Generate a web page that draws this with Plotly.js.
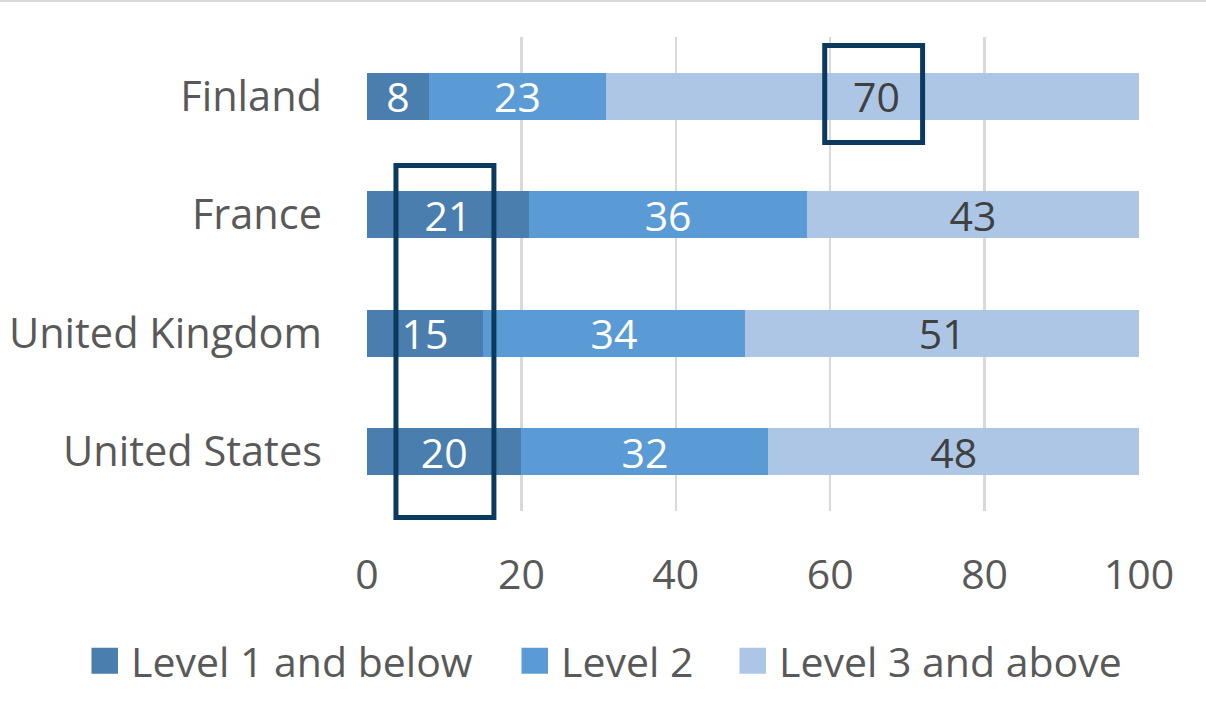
<!DOCTYPE html>
<html>
<head>
<meta charset="utf-8">
<script src="https://cdn.plot.ly/plotly-3.0.1.min.js"></script>
<style>
  html, body { margin: 0; padding: 0; background: #fff; }
  #chart { width: 1206px; height: 718px; }
</style>
</head>
<body>
<div id="chart"></div>
<script>
// Countries, top to bottom
const countries = ['Finland', 'France', 'United Kingdom', 'United States'];

// Share of students per proficiency level (%)
const level1AndBelow = [8, 21, 15, 20];
const level2 = [23, 36, 34, 32];
const level3AndAbove = [70, 43, 51, 48];

const seriesNames = ['Level 1 and below', 'Level 2', 'Level 3 and above'];
const xTicks = [0, 20, 40, 60, 80, 100];

const FONT = '"Open Sans", "Noto Sans", sans-serif';
const SIZE = 41;

function barTrace(name, values, color, textColor, legendId) {
  return {
    type: 'bar',
    orientation: 'h',
    name: name,
    legend: legendId,
    y: countries,
    x: values,
    text: values.map(String),
    textposition: 'inside',
    insidetextanchor: 'middle',
    textangle: 0,
    constraintext: 'none',
    textfont: { family: FONT, size: SIZE, color: textColor },
    marker: { color: color, line: { width: 0 } },
    hoverinfo: 'skip'
  };
}

const data = [
  barTrace(seriesNames[0], level1AndBelow, '#4a7eae', '#ffffff', 'legend'),
  barTrace(seriesNames[1], level2, '#5b9bd5', '#ffffff', 'legend2'),
  barTrace(seriesNames[2], level3AndAbove, '#adc6e6', '#404040', 'legend3')
];

// one legend box per series, spread along the bottom
function legendAt(x) {
  return {
    orientation: 'h',
    xref: 'container',
    yref: 'container',
    x: x,
    xanchor: 'left',
    y: 57 / 718,
    yanchor: 'middle',
    font: { family: FONT, size: SIZE, color: '#595959' },
    bgcolor: 'rgba(0,0,0,0)',
    borderwidth: 0
  };
}

const boxLine = { color: '#0b3a5e', width: 5 };

const layout = {
  width: 1206,
  height: 718,
  margin: { l: 366.5, r: 67, t: 37, b: 207, pad: 0 },
  paper_bgcolor: '#ffffff',
  plot_bgcolor: '#ffffff',
  barmode: 'stack',
  bargap: 0.6,
  showlegend: true,
  hovermode: false,
  font: { family: FONT, size: SIZE, color: '#595959' },
  xaxis: {
    range: [0, 100],
    tickvals: xTicks,
    ticktext: xTicks.map(String),
    showgrid: true,
    gridcolor: '#d9d9d9',
    gridwidth: 2.5,
    zeroline: false,
    showline: false,
    ticks: '',
    ticklabelstandoff: 36,
    tickfont: { family: FONT, size: SIZE, color: '#595959' },
    fixedrange: true
  },
  yaxis: {
    type: 'category',
    categoryorder: 'array',
    categoryarray: countries,
    range: [3.5, -0.5],
    showgrid: false,
    zeroline: false,
    showline: false,
    ticks: '',
    ticklabelstandoff: 44,
    tickfont: { family: FONT, size: 41.5, color: '#595959' },
    fixedrange: true
  },
  legend: legendAt(91 / 1206),
  legend2: legendAt(521 / 1206),
  legend3: legendAt(739 / 1206),
  shapes: [
    // thin rule along the top edge
    { type: 'line', xref: 'paper', yref: 'paper', x0: -0.48, x1: 1.09, y0: 1.076, y1: 1.076,
      line: { color: '#d9d9d9', width: 2 } },
    // highlight around Finland's top level
    { type: 'rect', xref: 'paper', yref: 'paper', x0: 0.5929, x1: 0.7197, y0: 0.7774, y1: 0.982,
      line: boxLine, fillcolor: 'rgba(0,0,0,0)' },
    // highlight around the lowest level of the other three countries
    { type: 'rect', xref: 'paper', yref: 'paper', x0: 0.0375, x1: 0.1644, y0: -0.0137, y1: 0.7289,
      line: boxLine, fillcolor: 'rgba(0,0,0,0)' }
  ]
};

// larger legend swatches, with a wider gap before the label
function growSwatches(gd) {
  gd.querySelectorAll('.legendpoints path').forEach(function (p) {
    p.setAttribute('d', 'M7,13H-19.5V-13H7Z');
  });
}

const gd = document.getElementById('chart');
Plotly.newPlot(gd, data, layout, { displayModeBar: false, staticPlot: true });
growSwatches(gd);
gd.on('plotly_afterplot', function () { growSwatches(gd); });
</script>
</body>
</html>
